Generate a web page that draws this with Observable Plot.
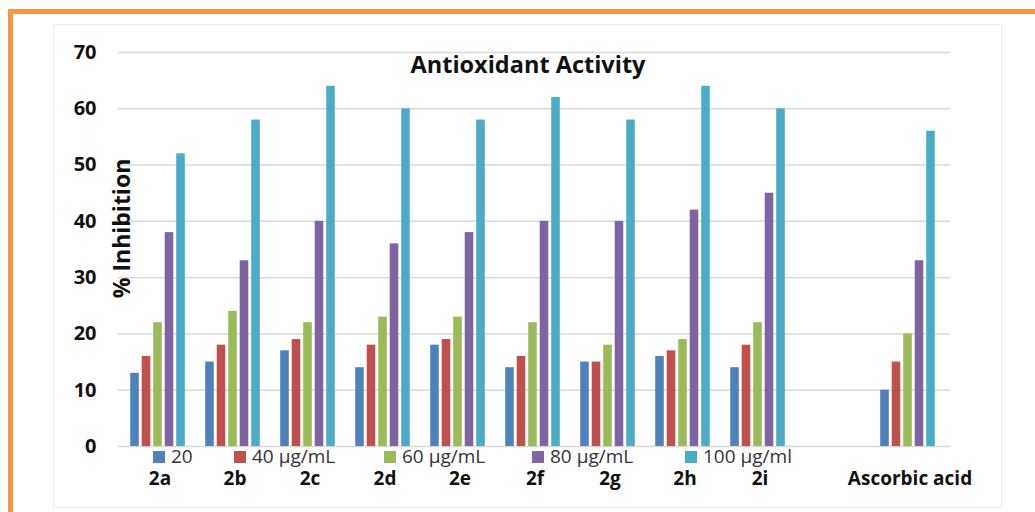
<!DOCTYPE html>
<html>
<head>
<meta charset="utf-8">
<script src="https://cdn.jsdelivr.net/npm/d3@7"></script>
<script src="https://cdn.jsdelivr.net/npm/@observablehq/plot@0.6"></script>
<style>
  html, body { margin: 0; padding: 0; background: #fff; }
  #wrap { position: relative; width: 1035px; height: 512px; overflow: hidden; font-family: "Open Sans", sans-serif; }
  #outer { position: absolute; left: 8px; top: 9px; width: 1200px; height: 600px; border-left: 5px solid #F79646; border-top: 5px solid #F79646; box-sizing: border-box; }
  #inner { position: absolute; left: 53px; top: 24px; width: 949px; height: 484px; border: 1px solid #ececec; box-sizing: border-box; }
  #chart { position: absolute; left: 0; top: 0; }
  #title { position: absolute; left: 0; width: 1056px; top: 49px; text-align: center; font-weight: bold; font-size: 23.5px; color: #111; line-height: 30px; }
  .item { position: absolute; top: 447px; font-size: 19px; color: #333; white-space: nowrap; line-height: 18px; }
  .sw { display: inline-block; width: 12px; height: 12px; margin-right: 6px; vertical-align: 0px; }
</style>
</head>
<body>
<div id="wrap">
  <div id="outer"></div>
  <div id="inner"></div>
  <div id="chart"></div>
  <div id="title"></div>
</div>
<script>
const titleText = "Antioxidant Activity";
const yLabel = "% Inhibition";
const compounds = ["2a", "2b", "2c", "2d", "2e", "2f", "2g", "2h", "2i", "Ascorbic acid"];
const spacer = " ";
const series = ["20", "40 µg/mL", "60 µg/mL", "80 µg/mL", "100 µg/ml"];
const colors = ["#4F81BD", "#C0504D", "#9BBB59", "#8064A2", "#4BACC6"];
const v20  = [13, 15, 17, 14, 18, 14, 15, 16, 14, 10];
const v40  = [16, 18, 19, 18, 19, 16, 15, 17, 18, 15];
const v60  = [22, 24, 22, 23, 23, 22, 18, 19, 22, 20];
const v80  = [38, 33, 40, 36, 38, 40, 40, 42, 45, 33];
const v100 = [52, 58, 64, 60, 58, 62, 58, 64, 60, 56];
const yTicks = [0, 10, 20, 30, 40, 50, 60, 70];
const legendLeft = [153, 234, 384, 532, 685];

const valuesBySeries = [v20, v40, v60, v80, v100];
const xDomain = [...compounds.slice(0, 9), spacer, compounds[9]];

document.getElementById("title").textContent = titleText;

// layout (pixels) for grouped bars inside each category band
const W = 1035, mL = 118, mR = 85;
const step = (W - mL - mR) / xDomain.length;
const groupW = step * 0.73;
const barStep = groupW / (series.length - 0.2);
const barW = barStep * 0.8;
const groupShift = -2;

const barMarks = series.map((s, j) => {
  const left = (step - groupW) / 2 + j * barStep + groupShift;
  const right = step - left - barW;
  const data = compounds.map((c, i) => ({compound: c, series: s, value: valuesBySeries[j][i]}));
  return Plot.barY(data, {x: "compound", y: "value", fill: colors[j], insetLeft: left, insetRight: right});
});

const plot = Plot.plot({
  width: W,
  height: 512,
  marginLeft: mL,
  marginRight: mR,
  marginTop: 52,
  marginBottom: 66,
  style: {background: "transparent", fontFamily: "'Open Sans', sans-serif", color: "#111"},
  x: {domain: xDomain, padding: 0},
  y: {domain: [0, 70]},
  marks: [
    Plot.gridY(yTicks, {stroke: "#d9d9d9", strokeOpacity: 1, strokeWidth: 1.5}),
    Plot.axisY(yTicks, {tickSize: 0, tickPadding: 22, fontSize: 20, fontWeight: "bold", label: null}),
    Plot.axisX({tickSize: 0, tickPadding: 25, fontSize: 19, fontWeight: "bold", label: null}),
    ...barMarks,
    Plot.text([yLabel], {frameAnchor: "left", textAnchor: "middle", rotate: -90, dx: 4, dy: -21, fontSize: 23, fontWeight: "bold", fill: "#111"})
  ]
});
document.getElementById("chart").appendChild(plot);

const wrap = document.getElementById("wrap");
series.forEach((s, i) => {
  const it = document.createElement("div");
  it.className = "item";
  it.style.left = legendLeft[i] + "px";
  const sw = document.createElement("span");
  sw.className = "sw";
  sw.style.background = colors[i];
  it.appendChild(sw);
  it.appendChild(document.createTextNode(s));
  wrap.appendChild(it);
});
</script>
</body>
</html>
